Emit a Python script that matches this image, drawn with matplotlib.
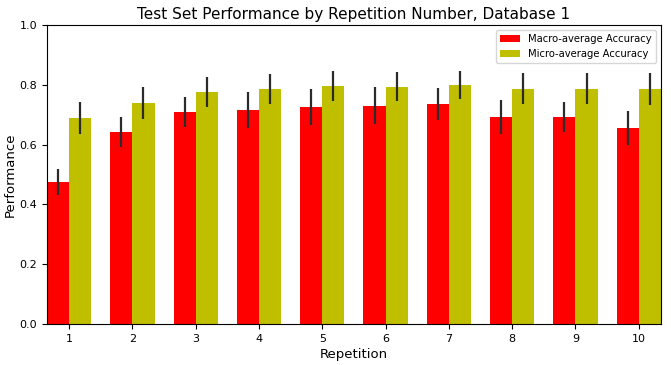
import numpy as np
import matplotlib
matplotlib.use('Agg')
import matplotlib.pyplot as plt

reps = [1, 2, 3, 4, 5, 6, 7, 8, 9, 10]
macro = [0.475, 0.642, 0.709, 0.716, 0.726, 0.729, 0.736, 0.692, 0.692, 0.655]
macro_err = [0.044, 0.050, 0.050, 0.060, 0.060, 0.062, 0.054, 0.058, 0.050, 0.057]
micro = [0.689, 0.739, 0.775, 0.785, 0.795, 0.793, 0.799, 0.786, 0.786, 0.786]
micro_err = [0.054, 0.052, 0.050, 0.050, 0.050, 0.048, 0.047, 0.052, 0.052, 0.053]

width = 0.35
x = np.array(reps)

fig = plt.figure(figsize=(6.71, 3.65), dpi=100)
ax = fig.add_axes([0.070, 0.112, 0.915, 0.820])

ax.bar(x - width, macro, width, align='edge', color='r', yerr=macro_err,
       error_kw=dict(ecolor='#2b2b2b', elinewidth=1.6, capsize=0),
       label='Macro-average Accuracy')
ax.bar(x, micro, width, align='edge', color='y', yerr=micro_err,
       error_kw=dict(ecolor='#2b2b2b', elinewidth=1.6, capsize=0),
       label='Micro-average Accuracy')

ax.set_xlim(1 - width, 10 + width)
ax.set_ylim(0, 1.0)
ax.set_xticks(x)
ax.set_xticklabels([str(r) for r in reps])
ax.tick_params(labelsize=8)
ax.set_xlabel('Repetition', fontsize=9.5, labelpad=3)
ax.set_ylabel('Performance', fontsize=9.5, labelpad=2)
ax.set_title('Test Set Performance by Repetition Number, Database 1', fontsize=11, pad=4)
ax.legend(loc='upper right', fontsize=7.2)

fig.savefig('out.png', dpi=100)
